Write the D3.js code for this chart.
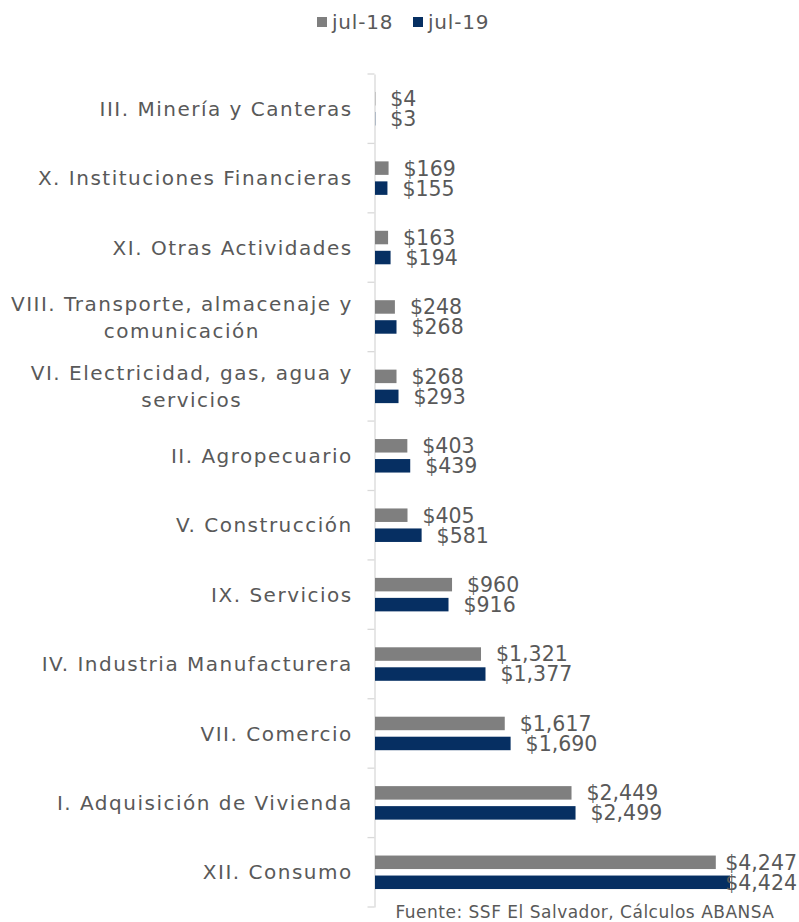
<!DOCTYPE html>
<html>
<head>
<meta charset="utf-8">
<script src="https://cdn.jsdelivr.net/npm/d3@7"></script>
<style>
  html, body { margin: 0; padding: 0; background: #fff; }
  svg { display: block; }
  text { font-family: "DejaVu Sans", sans-serif; fill: #595959; }
</style>
</head>
<body>
<svg id="chart" width="799" height="922"></svg>
<script>
const categories = [
  "III. Minería y Canteras",
  "X. Instituciones Financieras",
  "XI. Otras Actividades",
  "VIII. Transporte, almacenaje y comunicación",
  "VI. Electricidad, gas, agua y servicios",
  "II. Agropecuario",
  "V. Construcción",
  "IX. Servicios",
  "IV. Industria Manufacturera",
  "VII. Comercio",
  "I. Adquisición de Vivienda",
  "XII. Consumo"
];
const seriesNames = ["jul-18", "jul-19"];
const jul18 = [4, 169, 163, 248, 268, 403, 405, 960, 1321, 1617, 2449, 4247];
const jul19 = [3, 155, 194, 268, 293, 439, 581, 916, 1377, 1690, 2499, 4424];
const colors = ["#7f7f7f", "#062f62"];
const sourceText = "Fuente: SSF El Salvador, Cálculos ABANSA";

const svg = d3.select("#chart");
const axisX = 374.5;
const plotTop = 74, plotBottom = 907;
const labelRight = 352;
const rightLimit = 797;

const series = [jul18, jul19];
const maxVal = d3.max(jul19.concat(jul18));
const x = d3.scaleLinear().domain([0, maxVal]).range([375, 730]);
const y = d3.scaleBand().domain(categories).range([plotTop, plotBottom]);
const ySub = d3.scaleBand().domain(seriesNames).range([-16.75, 16.75]).paddingInner(0.325);

// axis line and ticks
const axis = d3.axisLeft(y).tickSize(0).tickFormat("");
const gAxis = svg.append("g").attr("transform", `translate(${axisX},0)`).call(axis);
gAxis.select(".domain").attr("stroke", "#d9d9d9").attr("stroke-width", 1.3);
const boundaries = categories.map(c => y(c)).concat([plotBottom]);
svg.append("g").selectAll("line").data(boundaries).join("line")
  .attr("x1", axisX - 7).attr("x2", axisX)
  .attr("y1", d => d).attr("y2", d => d)
  .attr("stroke", "#d9d9d9").attr("stroke-width", 1.3);

// bars
seriesNames.forEach((s, si) => {
  const vals = series[si];
  svg.append("g").selectAll("rect").data(categories).join("rect")
    .attr("x", x(0))
    .attr("y", c => y(c) + y.bandwidth() / 2 + ySub(s))
    .attr("width", (c, i) => Math.max(0, x(vals[i]) - x(0)))
    .attr("height", ySub.bandwidth())
    .attr("fill", colors[si]);
});

// value labels
const fmt = d3.format(",");
seriesNames.forEach((s, si) => {
  const vals = series[si];
  svg.append("g").selectAll("text").data(categories).join("text")
    .attr("x", (c, i) => x(vals[i]) + 15)
    .attr("y", c => y(c) + y.bandwidth() / 2 + ySub(s) + ySub.bandwidth() / 2)
    .attr("dy", "0.36em")
    .attr("font-size", 20.5)
    .text((c, i) => "$" + fmt(vals[i]))
    .each(function() {
      const t = d3.select(this);
      const w = this.getComputedTextLength();
      const x0 = +t.attr("x");
      if (x0 + w > rightLimit) t.attr("x", rightLimit - w);
    });
});

// category labels with wrapping
const catFont = 20;
const catSpacing = 1.5;
const maxLabelW = 352;
const lineH = 27;
const gLab = svg.append("g");
categories.forEach(c => {
  const words = c.split(" ");
  const tmp = gLab.append("text").attr("font-size", catFont).attr("letter-spacing", catSpacing);
  const lines = [];
  let cur = "";
  words.forEach(wd => {
    const test = cur ? cur + " " + wd : wd;
    tmp.text(test);
    if (tmp.node().getComputedTextLength() > maxLabelW && cur) {
      lines.push(cur);
      cur = wd;
    } else cur = test;
  });
  lines.push(cur);
  const widths = lines.map(l => { tmp.text(l); return tmp.node().getComputedTextLength() - catSpacing; });
  tmp.remove();
  const maxW = d3.max(widths);
  const cx = labelRight - maxW / 2;
  const yc = y(c) + y.bandwidth() / 2;
  const t = gLab.append("text").attr("font-size", catFont)
    .attr("letter-spacing", catSpacing).attr("text-anchor", "middle");
  lines.forEach((l, i) => {
    t.append("tspan").attr("x", cx)
      .attr("y", yc + (i - (lines.length - 1) / 2) * lineH)
      .attr("dy", "0.36em")
      .text(l);
  });
});

// legend
const legend = svg.append("g");
const legX = [317, 413];
seriesNames.forEach((s, i) => {
  legend.append("rect").attr("x", legX[i]).attr("y", 17).attr("width", 10).attr("height", 10).attr("fill", colors[i]);
  legend.append("text").attr("x", legX[i] + 15).attr("y", 22).attr("dy", "0.36em")
    .attr("font-size", 20).attr("letter-spacing", 0.8).text(s);
});

// source
svg.append("text").attr("x", 585).attr("y", 912).attr("dy", "0.36em")
  .attr("text-anchor", "middle").attr("font-size", 17).attr("letter-spacing", 0.5).text(sourceText);
</script>
</body>
</html>
